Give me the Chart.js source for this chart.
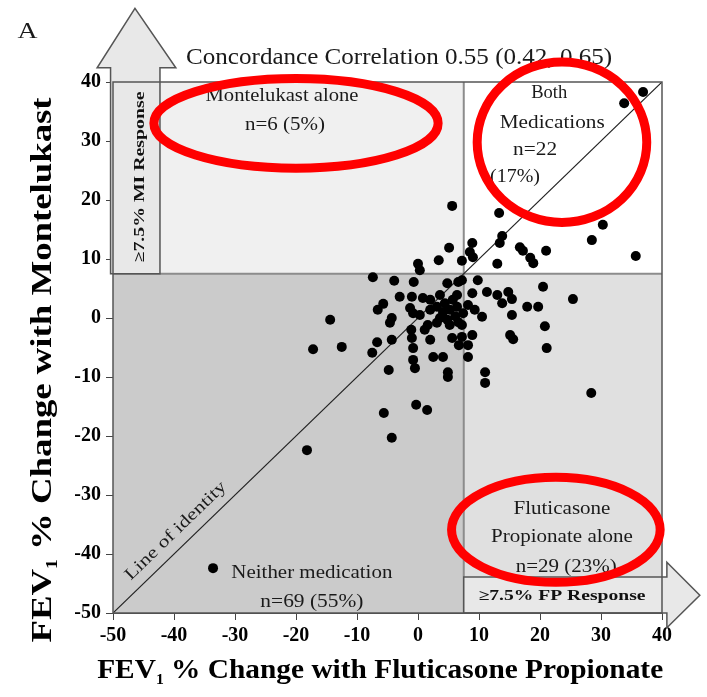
<!DOCTYPE html>
<html>
<head>
<meta charset="utf-8">
<script src="https://cdn.jsdelivr.net/npm/chart.js@4.4.1/dist/chart.umd.min.js"></script>
<style>
  html, body { margin: 0; padding: 0; background: #fff; }
  #wrap { width: 707px; height: 697px; }
</style>
</head>
<body>
<div id="wrap"><canvas id="chart"></canvas></div>
<script>
// FEV1 % change: [with fluticasone propionate, with montelukast], one pair per patient
const responses = [
  // both / montelukast alone (upper band)
  [36.9, 38.3], [33.8, 36.4], [5.6, 19.0], [13.3, 17.8], [30.3, 15.8], [28.5, 13.2],
  [13.8, 13.9], [13.4, 12.7], [8.9, 12.7], [8.5, 11.2], [5.1, 11.9], [3.4, 9.8],
  [7.2, 9.7], [9.0, 10.3], [16.7, 12.0], [17.2, 11.4], [18.4, 10.2], [18.9, 9.3],
  [21.0, 11.4], [13.0, 9.2], [0.0, 9.2], [35.7, 10.5], [0.3, 8.1],
  // neither medication
  [-7.4, 6.9], [-3.9, 6.3], [-0.7, 6.1], [4.8, 5.9], [6.6, 6.1], [7.2, 6.4],
  [-3.0, 3.6], [-1.0, 3.6], [0.8, 3.4], [2.0, 3.1], [6.4, 3.9], [-5.7, 2.4],
  [-6.6, 1.4], [-1.3, 1.7], [-0.8, 0.8], [0.3, 0.5], [3.1, 1.9], [4.1, 1.0],
  [5.2, 1.4], [6.4, 1.9], [7.4, 0.8], [4.8, -0.3], [6.6, -0.7], [5.2, -1.2],
  [1.6, -1.2], [3.1, -0.8], [-4.3, 0.0], [-4.6, -0.8], [-14.4, -0.3], [-6.7, -4.1],
  [-4.3, -3.7], [-1.0, -3.4], [2.0, -3.7], [5.6, -3.4], [7.2, -3.2], [-12.5, -4.9],
  [-17.2, -5.3], [-7.5, -5.9], [-0.8, -5.1], [4.1, -6.6], [2.5, -6.6], [-1.1, -2.0],
  [-0.8, -7.1], [-0.5, -8.5], [-4.8, -8.8], [4.9, -9.2], [4.9, -10.0], [-0.3, -14.7],
  [1.5, -15.6], [-5.6, -16.1], [-4.3, -20.3], [-18.2, -22.4], [-33.6, -42.4],
  [3.6, 3.9], [5.7, 3.1], [4.4, 2.5], [6.1, 0.3], [2.0, 1.4], [3.6, 0.0],
  [1.1, -2.0], [7.2, -1.2], [6.7, -4.6],
  // fluticasone propionate alone
  [9.8, 6.4], [8.9, 4.2], [11.3, 4.4], [13.0, 3.9], [14.8, 4.4], [15.4, 3.2],
  [13.8, 2.5], [10.5, 0.2], [15.4, 0.5], [17.9, 1.9], [19.7, 1.9], [20.5, 5.3],
  [25.4, 3.2], [20.8, -1.4], [21.1, -5.1], [15.1, -2.9], [15.6, -3.6], [8.9, -2.9],
  [8.2, -4.6], [8.2, -6.6], [11.0, -9.2], [11.0, -11.0], [28.4, -12.7], [8.2, 2.2],
  [9.3, 1.4],
];

const axisTicks = [-50, -40, -30, -20, -10, 0, 10, 20, 30, 40];
const responseCut = 7.5;

const quadrantNotes = [
  { text: 'Montelukast alone', x: -22.3, y: 37.6, size: 18, w: 153 },
  { text: 'n=6 (5%)', x: -21.8, y: 32.7, size: 18, w: 80 },
  { text: 'Both', x: 21.5, y: 38.1, size: 19, w: 36 },
  { text: 'Medications', x: 22.0, y: 33.1, size: 19, w: 105 },
  { text: 'n=22', x: 19.2, y: 28.5, size: 19, w: 44 },
  { text: '(17%)', x: 15.9, y: 23.9, size: 19, w: 50 },
  { text: 'Fluticasone', x: 23.6, y: -32.5, size: 18, w: 97 },
  { text: 'Propionate alone', x: 23.6, y: -37.1, size: 18, w: 142 },
  { text: 'n=29 (23%)', x: 24.3, y: -42.2, size: 18, w: 101 },
  { text: 'Neither medication', x: -17.4, y: -43.2, size: 19, w: 161 },
  { text: 'n=69 (55%)', x: -17.4, y: -48.1, size: 18, w: 103 },
  { text: 'Concordance Correlation 0.55 (0.42, 0.65)', x: -3.1, y: 44.1, size: 23, w: 426 },
  { text: 'A', x: -64, y: 48.5, size: 24, w: 20 },
];

// red rings round the quadrant counts (centre and radii in axis units)
const rings = [
  { x: -20.0, y: 33.0, rx: 23.3, ry: 7.6 },
  { x: 23.6, y: 29.8, rx: 13.9, ry: 13.6 },
  { x: 22.6, y: -35.9, rx: 17.1, ry: 8.9 },
];

const serif = '"Liberation Serif", "Times New Roman", serif';

function fitText(ctx, text, x, y, width, font, angle) {
  ctx.save();
  ctx.font = font;
  const natural = ctx.measureText(text).width;
  ctx.translate(x, y);
  ctx.rotate(angle || 0);
  ctx.scale(width / natural, 1);
  ctx.textAlign = 'center';
  ctx.textBaseline = 'middle';
  ctx.fillText(text, 0, 0);
  ctx.restore();
}

function richText(ctx, parts, x, y, width, angle) {
  ctx.save();
  let total = 0;
  parts.forEach((p) => {
    ctx.font = p.font;
    p.w = ctx.measureText(p.text).width;
    total += p.w;
  });
  ctx.translate(x, y);
  ctx.rotate(angle || 0);
  ctx.scale(width / total, 1);
  ctx.textAlign = 'left';
  ctx.textBaseline = 'alphabetic';
  let pos = -total / 2;
  parts.forEach((p) => {
    ctx.font = p.font;
    ctx.fillText(p.text, pos, p.dy || 0);
    pos += p.w;
  });
  ctx.restore();
}

function polygon(ctx, pts) {
  ctx.beginPath();
  pts.forEach(([px, py], i) => (i ? ctx.lineTo(px, py) : ctx.moveTo(px, py)));
  ctx.closePath();
  ctx.fill();
  ctx.stroke();
}

const annotate = {
  id: 'annotate',
  beforeDatasetsDraw(chart) {
    const { ctx, chartArea: a, scales: { x, y } } = chart;
    const cx = x.getPixelForValue(responseCut);
    const cy = y.getPixelForValue(responseCut);
    ctx.save();
    ctx.fillStyle = '#f0f0f0';
    ctx.fillRect(a.left, a.top, cx - a.left, cy - a.top);
    ctx.fillStyle = '#ffffff';
    ctx.fillRect(cx, a.top, a.right - cx, cy - a.top);
    ctx.fillStyle = '#cbcbcb';
    ctx.fillRect(a.left, cy, cx - a.left, a.bottom - cy);
    ctx.fillStyle = '#e0e0e0';
    ctx.fillRect(cx, cy, a.right - cx, a.bottom - cy);
    ctx.strokeStyle = '#8c8c8c';
    ctx.lineWidth = 2;
    ctx.beginPath();
    ctx.moveTo(cx, a.top);
    ctx.lineTo(cx, a.bottom);
    ctx.moveTo(a.left, cy);
    ctx.lineTo(a.right, cy);
    ctx.stroke();
    ctx.restore();
  },
  afterDatasetsDraw(chart) {
    const { ctx, chartArea: a, scales: { x, y } } = chart;
    const px = (v) => x.getPixelForValue(v);
    const py = (v) => y.getPixelForValue(v);

    ctx.save();
    // response arrows
    ctx.fillStyle = '#e8e8e8';
    ctx.strokeStyle = '#555';
    ctx.lineWidth = 1.5;
    polygon(ctx, [
      [px(-50.4), py(responseCut)], [px(-50.4), py(42.4)], [px(-52.6), py(42.4)],
      [px(-46.4), py(52.5)], [px(-39.7), py(42.4)], [px(-42.3), py(42.4)],
      [px(-42.3), py(responseCut)],
    ]);
    polygon(ctx, [
      [px(responseCut), py(-43.9)], [px(40.8), py(-43.9)], [px(40.8), py(-41.4)],
      [px(46.2), py(-47.0)], [px(40.8), py(-52.5)], [px(40.8), py(-50)],
      [px(responseCut), py(-50)],
    ]);

    // frame
    ctx.strokeStyle = '#555';
    ctx.lineWidth = 1.5;
    ctx.strokeRect(a.left, a.top, a.right - a.left, a.bottom - a.top);

    ctx.fillStyle = '#111';
    fitText(ctx, '\u22657.5% FP Response', px(23.6), py(-47.1), 167, 'bold 15px ' + serif);
    fitText(ctx, '\u22657.5% MI Response', px(-45.6), py(23.9), 171, 'bold 15px ' + serif, -Math.PI / 2);

    ctx.fillStyle = '#1a1a1a';
    quadrantNotes.forEach((n) => {
      fitText(ctx, n.text, px(n.x), py(n.y), n.w, n.size + 'px ' + serif);
    });

    const angle = Math.atan2(py(40) - py(-50), px(40) - px(-50));
    fitText(ctx, 'Line of identity', px(-39.7), py(-36.1), 134, '17px ' + serif, angle);

    // axis titles
    ctx.fillStyle = '#000';
    richText(ctx, [
      { text: 'FEV', font: 'bold 28px ' + serif },
      { text: '1', font: 'bold 15px ' + serif, dy: 6 },
      { text: ' % Change with Fluticasone Propionate', font: 'bold 28px ' + serif },
    ], px(-6.2), a.bottom + 65, 566);
    richText(ctx, [
      { text: 'FEV', font: 'bold 30px ' + serif },
      { text: '1', font: 'bold 16px ' + serif, dy: 6 },
      { text: ' % Change with Montelukast', font: 'bold 30px ' + serif },
    ], a.left - 62, py(-8.8), 545, -Math.PI / 2);

    ctx.strokeStyle = '#ff0000';
    ctx.lineWidth = 9;
    rings.forEach((r) => {
      ctx.beginPath();
      ctx.ellipse(px(r.x), py(r.y), px(r.x + r.rx) - px(r.x), py(r.y) - py(r.y + r.ry), 0, 0, Math.PI * 2);
      ctx.stroke();
    });
    ctx.restore();
  },
};

const tickFont = { family: serif, size: 20, weight: 'bold' };

new Chart(document.getElementById('chart'), {
  type: 'scatter',
  data: {
    datasets: [
      {
        label: 'Patients',
        data: responses.map(([fp, ml]) => ({ x: fp, y: ml })),
        backgroundColor: '#000',
        pointRadius: 5,
        borderWidth: 0,
        order: 1,
      },
      {
        label: 'Line of identity',
        data: [
          { x: axisTicks[0], y: axisTicks[0] },
          { x: axisTicks[axisTicks.length - 1], y: axisTicks[axisTicks.length - 1] },
        ],
        showLine: true,
        borderColor: '#222',
        borderWidth: 1.2,
        pointRadius: 0,
        order: 2,
      },
    ],
  },
  options: {
    responsive: true,
    maintainAspectRatio: false,
    animation: false,
    layout: { padding: { top: 82, right: 45, left: 0, bottom: 0 } },
    plugins: {
      legend: { display: false },
      tooltip: { enabled: false },
    },
    scales: {
      x: {
        type: 'linear',
        min: axisTicks[0],
        max: axisTicks[axisTicks.length - 1],
        afterFit: (s) => { s.height = 84; },
        afterBuildTicks: (s) => { s.ticks = axisTicks.map((v) => ({ value: v })); },
        ticks: { font: tickFont, color: '#000', padding: 4, maxRotation: 0, autoSkip: false },
        grid: { drawOnChartArea: false, tickLength: 7, color: '#444' },
        border: { color: '#444' },
      },
      y: {
        type: 'linear',
        min: axisTicks[0],
        max: axisTicks[axisTicks.length - 1],
        afterFit: (s) => { s.width = 113; },
        afterBuildTicks: (s) => { s.ticks = axisTicks.map((v) => ({ value: v })); },
        ticks: { font: tickFont, color: '#000', padding: 5, autoSkip: false },
        grid: { drawOnChartArea: false, tickLength: 7, color: '#444' },
        border: { color: '#444' },
      },
    },
  },
  plugins: [annotate],
});
</script>
</body>
</html>
